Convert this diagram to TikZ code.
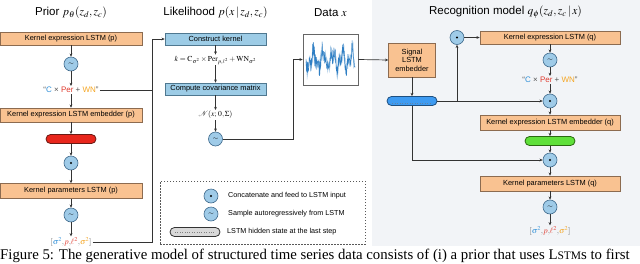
\documentclass[tikz,border=0pt]{standalone}
\usepackage{mathptmx}
\usepackage[no-math]{fontspec}
\setmainfont{Liberation Sans}
\newfontfamily\capfont{Liberation Serif}
\usetikzlibrary{arrows.meta,calc}
\definecolor{orfill}{HTML}{F9C291}
\definecolor{orline}{HTML}{8C6B50}
\definecolor{bxfill}{HTML}{9DCCE6}
\definecolor{bxline}{HTML}{4F7890}
\definecolor{cfill}{HTML}{9FCBE8}
\definecolor{cline}{HTML}{3F6A8C}
\definecolor{redp}{HTML}{E8261C}
\definecolor{redl}{HTML}{6A1A14}
\definecolor{bluep}{HTML}{3E9BF2}
\definecolor{bluel}{HTML}{1E4F80}
\definecolor{greenp}{HTML}{5FE03A}
\definecolor{greenl}{HTML}{2A6A10}
\definecolor{grayp}{HTML}{D9D9D9}
\definecolor{lc}{HTML}{333333}
\definecolor{gtxt}{HTML}{555555}
\definecolor{cC}{HTML}{2F8FD8}
\definecolor{cPer}{HTML}{E03A2E}
\definecolor{cWN}{HTML}{F5A623}
\definecolor{recbg}{HTML}{F2F4F7}
\definecolor{tsblue}{HTML}{2F7FC4}
\newcommand\exprtxt{\textcolor{gtxt}{“}\textcolor{cC}{C}\textcolor{gtxt}{\ ×\ }\textcolor{cPer}{Per}\textcolor{gtxt}{\ +\ }\textcolor{cWN}{WN}\textcolor{gtxt}{”}}
\newcommand\outtxt{$\textcolor{gtxt}{[}\textcolor{cC}{\sigma^2}\textcolor{gtxt}{,}\textcolor{cPer}{p}\textcolor{gtxt}{,}\textcolor{cPer}{\ell^2}\textcolor{gtxt}{,}\textcolor{cWN}{\sigma^2}\textcolor{gtxt}{]}$}
\newcommand\tld{{\fontsize{7}{7}\selectfont$\sim$}}
\tikzset{
  obox/.style={draw=orline, fill=orfill, line width=0.6pt, minimum height=13pt, inner sep=0pt, font=\fontsize{7.4}{8}\selectfont},
  bbox/.style={draw=bxline, fill=bxfill, line width=0.6pt, minimum height=12pt, minimum width=101pt, inner sep=0pt, font=\fontsize{7.4}{8}\selectfont},
  circ/.style={circle, draw=cline, fill=cfill, minimum size=14pt, inner sep=0pt, line width=0.6pt},
  pill/.style={rectangle, rounded corners=4.5pt, minimum width=50pt, minimum height=9pt, inner sep=0pt, line width=0.8pt},
  conn/.style={draw=lc, line width=0.7pt, -{Stealth[length=3.2pt,width=2.8pt]}},
  plain/.style={draw=lc, line width=0.7pt},
  ttl/.style={font=\fontsize{11.5}{12}\selectfont, inner sep=0pt},
  small/.style={font=\fontsize{8}{9}\selectfont, inner sep=1pt},
  legt/.style={font=\fontsize{7.2}{8}\selectfont, anchor=west, inner sep=0pt},
}
\begin{document}
\begin{tikzpicture}[x=1pt,y=-1pt]
\clip (0,0) rectangle (640,263);
\fill[white] (0,0) rectangle (640,263);
\fill[recbg] (372,0) rectangle (640,246);

% ---------- Prior ----------
\node[ttl] (tp) at (71,13) {Prior $p_\theta(z_d, z_c)$};
\node[obox, minimum width=142pt] (pk1) at (71,38.5) {Kernel expression LSTM (p)};
\node[circ] (pc1) at (71,64) {\tld};
\node[small] (pexpr) at (71,90) {\exprtxt};
\node[obox, minimum width=142pt, minimum height=14pt] (pk2) at (71,115) {Kernel expression LSTM embedder (p)};
\node[pill, fill=redp, draw=redl] (ppill) at (71,139) {};
\node[circ] (pc2) at (71,163) {};
\fill (pc2) circle (1.2pt);
\node[obox, minimum width=142pt, minimum height=15pt] (pk3) at (71,191) {Kernel parameters LSTM (p)};
\node[circ] (pc3) at (71,215) {\tld};
\node[small] (pout) at (71,242) {\outtxt};
\draw[conn] (pk1) -- (pc1);
\draw[conn] (pc1) -- (pexpr);
\draw[conn] (pexpr) -- (pk2);
\draw[conn] (pk2) -- (ppill);
\draw[conn] (ppill) -- (pc2);
\draw[conn] (pc2) -- (pk3);
\draw[conn] (pk3) -- (pc3);
\draw[conn] (pc3) -- (pout);

% ---------- Likelihood ----------
\node[ttl] (tl) at (215.5,13) {Likelihood $p(x\,|\,z_d, z_c)$};
\node[bbox] (ck) at (215.5,39) {Construct kernel};
\node[small, font=\fontsize{7.6}{9}\selectfont] (kf) at (215.5,60) {$k=\mathrm{C}_{\sigma^2}\times\mathrm{Per}_{p,\ell^2}+\mathrm{WN}_{\sigma^2}$};
\node[bbox] (cc) at (215.5,89) {Compute covariance matrix};
\node[small, font=\fontsize{7.6}{9}\selectfont] (nn) at (215.5,115) {$\mathcal{N}(x;\,0,\Sigma)$};
\node[circ] (mc) at (215.5,139) {\tld};
\draw[conn] (ck) -- (kf);
\draw[conn] (kf) -- (cc);
\draw[conn] (cc) -- (nn);
\draw[conn] (nn) -- (mc);
\coordinate (vtop) at (152,39);
\draw[conn] (pout.east) -| (vtop) -- (ck.west);
\draw[plain] (pexpr.east) -- (pexpr.east -| vtop);

% ---------- Data ----------
\node[ttl] (td) at (330.5,13) {Data $x$};
\node[draw=gray!80!black, fill=white, line width=0.6pt, minimum width=55pt, minimum height=51pt, inner sep=0pt] (data) at (330.5,59.5) {};
\pgfmathsetseed{7}
\draw[tsblue!45, line width=0.9pt] plot[domain=0:49, samples=120, variable=\t] ({\t+306}, {59.5 + 7*sin(\t*37) + 5*sin(\t*83+20) + 7*rand});
\draw[tsblue, line width=0.45pt] plot[domain=0:49, samples=140, variable=\t] ({\t+306}, {59.5 + 7*sin(\t*37) + 5*sin(\t*83+20) + 8*rand});
\coordinate (dj) at (293,59.5);
\draw[conn] (mc.east) -| (dj) -- (data.west);

% ---------- Recognition ----------
\node[ttl] (tr) at (505.5,12.5) {Recognition model $q_\phi(z_d, z_c\,|\,x)$};
\node[obox, minimum width=47pt, minimum height=34pt, align=center, font=\fontsize{7.4}{8.6}\selectfont] (sig) at (412,60) {Signal\\LSTM\\embedder};
\draw[conn] (data.east) -- (sig.west);
\node[pill, fill=bluep, draw=bluel] (bp) at (412,101) {};
\draw[bluel!70, line width=0.5pt, dotted] (392,103) -- (432,103);
\draw[conn] (sig) -- (bp);
\node[circ] (qd1) at (457,37.5) {};
\fill (qd1) circle (1.2pt);
\node[obox, minimum width=140pt] (qk1) at (550,37.5) {Kernel expression LSTM (q)};
\node[circ] (qt1) at (550,60) {\tld};
\node[small] (qexpr) at (550,80) {\exprtxt};
\node[circ] (qd2) at (550,101) {};
\fill (qd2) circle (1.2pt);
\node[obox, minimum width=140pt, minimum height=15pt] (qk2) at (550,122.5) {Kernel expression LSTM embedder (q)};
\node[pill, fill=greenp, draw=greenl] (gp) at (550,141) {};
\node[circ] (qd3) at (550,160) {};
\fill (qd3) circle (1.2pt);
\node[obox, minimum width=140pt, minimum height=15pt] (qk3) at (550,183.5) {Kernel parameters LSTM (q)};
\node[circ] (qt2) at (550,207) {\tld};
\node[small] (qout) at (550,231) {\outtxt};
\coordinate (br) at (457,101);
\draw[conn] (bp.east) -- (qd2.west);
\draw[conn] (br) -- (qd1);
\draw[conn] (qd1) -- (qk1);
\draw[conn] (qk1) -- (qt1);
\draw[conn] (qt1) -- (qexpr);
\draw[conn] (qexpr) -- (qd2);
\draw[conn] (qd2) -- (qk2);
\draw[conn] (qk2) -- (gp);
\draw[conn] (gp) -- (qd3);
\draw[conn] (qd3) -- (qk3);
\draw[conn] (qk3) -- (qt2);
\draw[conn] (qt2) -- (qout);
\draw[conn] (bp.south) |- (qd3.west);

% ---------- Legend ----------
\node[draw=gray!70!black, dash pattern=on 1.5pt off 1.5pt, line width=0.5pt, minimum width=205pt, minimum height=63pt, inner sep=0pt] (leg) at (262.5,212.5) {};
\node[circ] (l1) at (211,196) {};
\fill (l1) circle (1.2pt);
\node[circ] (l2) at (211,214) {\tld};
\node[pill, fill=grayp, draw=lc] (l3) at (195,232) {};
\draw[gray, line width=0.4pt, dotted] (175,232) -- (215,232);
\node[legt] (lt1) at (228,196) {Concatenate and feed to LSTM input};
\node[legt] (lt2) at (228,214) {Sample autoregressively from LSTM};
\node[legt] (lt3) at (227,232) {LSTM hidden state at the last step};

% ---------- Caption ----------
\node[anchor=base west, inner sep=0pt, font=\capfont\fontsize{14.8}{16}\selectfont] (cap) at (0,259) {Figure 5: The generative model of structured time series data consists of (i) a prior that uses L{\fontsize{11.5}{12}\selectfont STM}s to first};
\end{tikzpicture}
\end{document}
